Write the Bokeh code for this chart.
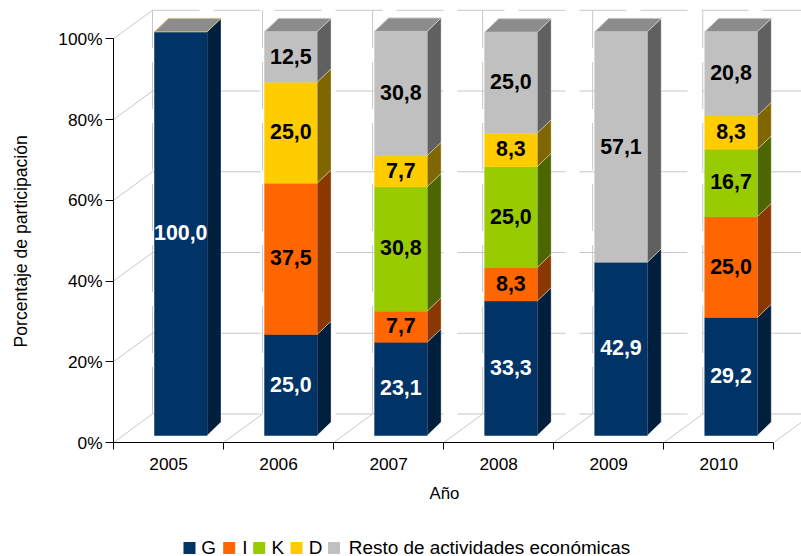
from bokeh.plotting import figure
from bokeh.layouts import column
from bokeh.models import FixedTicker, Range1d, ColumnDataSource, Title
from bokeh.core.properties import value
from bokeh.embed import file_html
from bokeh.resources import INLINE

years = ["2005", "2006", "2007", "2008", "2009", "2010"]
G = [100.0, 25.0, 23.1, 33.3, 42.9, 29.2]
I = [0, 37.5, 7.7, 8.3, 0, 25.0]
K = [0, 0, 30.8, 25.0, 0, 16.7]
D = [0, 25.0, 7.7, 8.3, 0, 8.3]
R = [0, 12.5, 30.8, 25.0, 57.1, 20.8]
series_names = ["G", "I", "K", "D", "Resto de actividades económicas"]
series_values = [G, I, K, D, R]
front_colors = ["#003366", "#ff6600", "#99cc00", "#ffcc00", "#c0c0c0"]
side_colors = ["#001f3d", "#8a3700", "#4d6600", "#806600", "#606060"]
label_colors = ["white", "black", "black", "black", "black"]
y_ticks = [0, 20, 40, 60, 80, 100]

FONT = "Liberation Sans"
PX_PER_CAT = 110.05
PX_PER_PCT = 4.037
W, H = 801, 530
LEG_H = 26
LEFT = 113
BOTTOM_Y = 442

x_end = (W - LEFT) / PX_PER_CAT
y_end = BOTTOM_Y / PX_PER_PCT

p = figure(width=W, height=H, output_backend="svg", toolbar_location=None,
           x_range=Range1d(0, x_end), y_range=Range1d(0, y_end),
           min_border_left=LEFT, min_border_right=0, min_border_top=0,
           min_border_bottom=H - BOTTOM_Y)
p.outline_line_color = None
p.grid.visible = False
p.background_fill_color = "white"
p.border_fill_color = None

# axes
xa = p.xaxis[0]
xa.ticker = FixedTicker(ticks=[i + 0.5 for i in range(6)], minor_ticks=list(range(7)))
xa.major_label_overrides = {i + 0.5: y for i, y in enumerate(years)}
xa.major_tick_out = 0
xa.major_tick_in = 0
xa.minor_tick_out = 7
xa.minor_tick_in = 0
xa.minor_tick_line_color = "#000000"
xa.axis_line_color = "#000000"
xa.bounds = (0, 6)
xa.major_label_text_font = FONT
xa.major_label_text_font_size = "17.3px"
xa.major_label_text_color = "#000000"
xa.major_label_standoff = 8
xa.axis_label = " "
xa.axis_label_text_font_size = "1px"
xa.axis_label_standoff = 0

ya = p.yaxis[0]
ya.ticker = FixedTicker(ticks=y_ticks, minor_ticks=[])
ya.major_label_overrides = {v: f"{v}%" for v in y_ticks}
ya.major_tick_out = 8
ya.major_tick_in = 0
ya.major_tick_line_color = "#000000"
ya.axis_line_color = "#000000"
ya.bounds = (0, 100)
ya.major_label_text_font = FONT
ya.major_label_text_font_size = "17.3px"
ya.major_label_text_color = "#000000"
ya.major_label_standoff = 3
ya.axis_label = " "
ya.axis_label_text_font_size = "14px"
ya.axis_label_standoff = 1

p.add_layout(Title(text="Año", align="left", offset=316,
                   text_font=FONT, text_font_size="16.8px", text_font_style="normal",
                   text_color="#000000"), "below")
p.add_layout(Title(text="Porcentaje de participación", align="left", offset=95,
                   text_font=FONT, text_font_size="17.6px", text_font_style="normal",
                   text_color="#000000"), "left")

# back walls
wall_dx = 39.0 / PX_PER_CAT
wall_dy = 28.5 / PX_PER_PCT
GRID = "#c8c8c8"
p.multi_line([[wall_dx, 6 + wall_dx + 1] for _ in y_ticks],
             [[v + wall_dy, v + wall_dy] for v in y_ticks],
             line_color=GRID, line_width=1, line_dash="47 14")
p.multi_line([[i + wall_dx, i + wall_dx] for i in range(7)],
             [[wall_dy, 100 + wall_dy] for _ in range(7)],
             line_color=GRID, line_width=1, line_dash="47 14")
p.multi_line([[0, wall_dx] for _ in y_ticks],
             [[v, v + wall_dy] for v in y_ticks],
             line_color=GRID, line_width=1)
p.multi_line([[i, i + wall_dx] for i in range(1, 7)],
             [[0, wall_dy] for _ in range(1, 7)],
             line_color=GRID, line_width=1)

# bars
bar_off = 41.0 / PX_PER_CAT
bar_w = 52.5 / PX_PER_CAT
base = 7.0 / PX_PER_PCT
dep_x = 14.0 / PX_PER_CAT
dep_y = 13.4 / PX_PER_PCT
EDGE = "#ffffff"

cum = [0.0] * 6
lab_x, lab_y, lab_t, lab_c = [], [], [], []
for name, vals, fc, sc, lc in zip(series_names, series_values, front_colors, side_colors, label_colors):
    fx, fy, sx, sy = [], [], [], []
    for i, v in enumerate(vals):
        x0 = i + bar_off
        x1 = x0 + bar_w
        y0 = cum[i] + base
        y1 = y0 + v
        if v > 0:
            fx.append([x0, x1, x1, x0])
            fy.append([y0, y0, y1, y1])
            sx.append([x1, x1 + dep_x, x1 + dep_x, x1])
            sy.append([y0, y0 + dep_y, y1 + dep_y, y1])
            lab_x.append((x0 + x1) / 2)
            lab_y.append((y0 + y1) / 2)
            lab_t.append(f"{v:.1f}".replace(".", ","))
            lab_c.append(lc)
        cum[i] += v
    p.patches(sx, sy, fill_color=sc, line_color=EDGE, line_alpha=0.35, line_width=1)
    p.patches(fx, fy, fill_color=fc, line_color=fc, line_width=0.5)

# top faces
tx, ty, tl = [], [], []
for i in range(6):
    x0 = i + bar_off
    x1 = x0 + bar_w
    y1 = cum[i] + base
    tx.append([x0, x1, x1 + dep_x, x0 + dep_x])
    ty.append([y1, y1, y1 + dep_y, y1 + dep_y])
    tl.append("#cfc184" if R[i] == 0 else "#c4c4c4")
p.patches("x", "y", source=ColumnDataSource(dict(x=tx, y=ty, lc=tl)),
          fill_color="#8c8c8c", line_color="lc", line_width=1)

# value labels
p.text(lab_x, lab_y, text=lab_t, text_color=lab_c, text_font=value(FONT),
       text_font_size="21.4px", text_font_style="bold",
       text_align="center", text_baseline="middle", y_offset=-1)

# legend strip (pixel coordinates of the strip)
leg = figure(width=W, height=LEG_H, output_backend="svg", toolbar_location=None,
             x_range=Range1d(LEFT, W), y_range=Range1d(0, LEG_H),
             min_border=0, x_axis_type=None, y_axis_type=None)
leg.outline_line_color = None
leg.grid.visible = False
swatch_left = [183, 222.7, 252.7, 290, 327.5]
text_left = [200.7, 241.7, 271, 308.3, 348.3]
leg.quad(left=swatch_left, right=[v + 12 for v in swatch_left],
         top=[14.5] * 5, bottom=[2.5] * 5, fill_color=front_colors, line_color=None)
leg.text(text_left, [9.5] * 5, text=series_names, text_font=value(FONT),
         text_font_size="18.9px", text_color="#000000",
         text_align="left", text_baseline="middle")

root = column(p, leg, spacing=0)
open("out.html", "w").write(file_html(root, INLINE))
